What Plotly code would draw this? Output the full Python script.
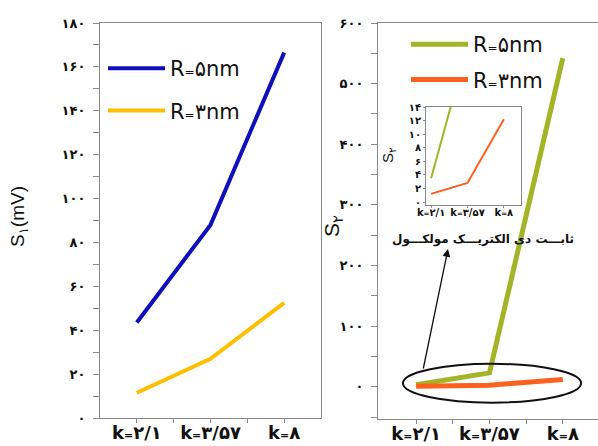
import plotly.graph_objects as go

W, H = 598, 446

# ---- data ----
k_labels = ["k<span style='font-size:11px'>=</span>۲/۱",
            "k<span style='font-size:11px'>=</span>۳/۵۷",
            "k<span style='font-size:11px'>=</span>۸"]
k_labels_small = ["k<span style='font-size:7px'>=</span>۲/۱",
                  "k<span style='font-size:7px'>=</span>۳/۵۷",
                  "k<span style='font-size:7px'>=</span>۸"]
s1_r5 = [43.5, 88, 166.5]
s1_r3 = [11.5, 27, 52.5]
s2_r5 = [3.5, 23, 542]
s2_r3 = [1.2, 2.8, 12.2]
s1_ticks = [0, 20, 40, 60, 80, 100, 120, 140, 160, 180]
s1_ticktext = ["۰", "۲۰", "۴۰", "۶۰", "۸۰", "۱۰۰", "۱۲۰", "۱۴۰", "۱۶۰", "۱۸۰"]
s2_ticks = [0, 100, 200, 300, 400, 500, 600]
s2_ticktext = ["۰", "۱۰۰", "۲۰۰", "۳۰۰", "۴۰۰", "۵۰۰", "۶۰۰"]
ins_ticks = [0, 2, 4, 6, 8, 10, 12, 14]
ins_ticktext = ["۰", "۲", "۴", "۶", "۸", "۱۰", "۱۲", "۱۴"]
legend_r5 = "R<span style='font-size:12px'>=</span>۵nm"
legend_r3 = "R<span style='font-size:12px'>=</span>۳nm"

xi = list(range(len(k_labels)))

BLUE = "#0f0fbe"
YEL = "#ffbf00"
GREEN = "#a3b526"
ORANGE = "#ff5f1f"
GRAY = "#8a8a8a"
FONT = "DejaVu Sans, sans-serif"
LFONT = "Liberation Sans, Arial, DejaVu Sans, sans-serif"
TXT = "#111"

fig = go.Figure()
fig.add_trace(go.Scatter(x=xi, y=s1_r5, mode="lines", line=dict(color=BLUE, width=4),
                         name=legend_r5, xaxis="x", yaxis="y", legend="legend", legendgroup="a"))
fig.add_trace(go.Scatter(x=xi, y=s1_r3, mode="lines", line=dict(color=YEL, width=4),
                         name=legend_r3, xaxis="x", yaxis="y", legend="legend", legendgroup="b"))
fig.add_trace(go.Scatter(x=xi, y=s2_r5, mode="lines", line=dict(color=GREEN, width=5),
                         name=legend_r5, xaxis="x2", yaxis="y2", legend="legend2", legendgroup="c"))
fig.add_trace(go.Scatter(x=xi, y=s2_r3, mode="lines", line=dict(color=ORANGE, width=5),
                         name=legend_r3, xaxis="x2", yaxis="y2", legend="legend2", legendgroup="d"))
fig.add_trace(go.Scatter(x=xi, y=s2_r5, mode="lines", line=dict(color=GREEN, width=2),
                         showlegend=False, xaxis="x3", yaxis="y3"))
fig.add_trace(go.Scatter(x=xi, y=s2_r3, mode="lines", line=dict(color=ORANGE, width=2),
                         showlegend=False, xaxis="x3", yaxis="y3"))


def px_x(a, b):
    return [a / W, b / W]


def px_y(top, bottom):
    return [1 - bottom / H, 1 - top / H]


axis_common = dict(showline=True, mirror=True, linecolor=GRAY, linewidth=1, automargin=False,
                   showgrid=False, zeroline=False, ticks="outside", tickcolor=GRAY)
xfont = dict(family=FONT, size=18, color=TXT, weight="bold")
yfont = dict(family=FONT, size=13, color=TXT, weight="bold")

fig.update_layout(
    width=W, height=H, margin=dict(l=0, r=0, t=0, b=0, pad=0), autosize=False,
    paper_bgcolor="white", plot_bgcolor="rgba(0,0,0,0)",
    xaxis=dict(domain=px_x(100, 321), range=[-0.5, 2.5], tickvals=xi, ticktext=k_labels,
               anchor="y", tickfont=xfont, ticklen=4, tickangle=0, ticklabelstandoff=-6,
               minor=dict(ticks="outside", ticklen=4, tickcolor=GRAY, tickvals=[0.5, 1.5]),
               **axis_common),
    yaxis=dict(domain=px_y(23, 418), range=[0, 180], tickvals=s1_ticks, ticktext=s1_ticktext,
               anchor="x", tickfont=yfont, ticklabelstandoff=5, ticklen=6,
               minor=dict(ticks="outside", ticklen=6, tickcolor=GRAY, dtick=10, tick0=0),
               **axis_common),
    xaxis2=dict(domain=px_x(378, 598), range=[-0.52, 2.48], tickvals=xi, ticktext=k_labels,
                anchor="y2", tickfont=xfont, ticklen=4, tickangle=0, ticklabelstandoff=-6,
                minor=dict(ticks="outside", ticklen=4, tickcolor=GRAY, tickvals=[0.5, 1.5]),
                **axis_common),
    yaxis2=dict(domain=px_y(23, 419), range=[-53, 600], tickvals=s2_ticks, ticktext=s2_ticktext,
                anchor="x2", tickfont=yfont, ticklabelstandoff=5, ticklen=6,
                minor=dict(ticks="outside", ticklen=6, tickcolor=GRAY, dtick=50, tick0=0),
                **axis_common),
    xaxis3=dict(domain=px_x(426, 521), range=[-0.14, 2.47], tickvals=xi, ticktext=k_labels_small,
                anchor="y3", tickfont=dict(family=FONT, size=10, color=TXT, weight="bold"),
                showline=True, mirror=True, linecolor=GRAY, showgrid=False, zeroline=False,
                automargin=False, ticks="outside", ticklen=2, tickcolor=GRAY, tickangle=0,
                ticklabelstandoff=-4),
    yaxis3=dict(domain=px_y(107, 205), range=[-0.44, 14], tickvals=ins_ticks, ticktext=ins_ticktext,
                anchor="x3", tickfont=dict(family=FONT, size=10, color=TXT, weight="bold"),
                showline=True, mirror=True, linecolor=GRAY, showgrid=False, zeroline=False,
                automargin=False, ticks="outside", ticklen=2, tickcolor=GRAY),
    legend=dict(x=103 / W, y=1 - 48 / H, xanchor="left", yanchor="top",
                font=dict(family=FONT, size=21, color=TXT), bgcolor="rgba(0,0,0,0)",
                tracegroupgap=12, itemwidth=57),
    legend2=dict(x=406 / W, y=1 - 24 / H, xanchor="left", yanchor="top",
                 font=dict(family=FONT, size=21, color=TXT), bgcolor="rgba(0,0,0,0)",
                 tracegroupgap=5, itemwidth=57),
    showlegend=True,
)

# axis titles
fig.add_annotation(text="S<sub>۱</sub>(mV)", xref="paper", yref="paper", x=19 / W, y=1 - 217 / H,
                   xanchor="center", yanchor="middle",
                   textangle=-90, showarrow=False, font=dict(family=LFONT, size=19, color=TXT))
fig.add_annotation(text="S<sub>۲</sub>", xref="paper", yref="paper", x=333 / W, y=1 - 226 / H,
                   xanchor="center", yanchor="middle",
                   textangle=-90, showarrow=False, font=dict(family=LFONT, size=21, color=TXT))
fig.add_annotation(text="S<sub>۲</sub>", xref="paper", yref="paper", x=388 / W, y=1 - 155 / H,
                   xanchor="center", yanchor="middle",
                   textangle=-90, showarrow=False, font=dict(family=LFONT, size=15, color=TXT))

# Persian label and arrow
fig.add_annotation(text="\u200eثابـــت دی الکتریـــک مولکـــول\u200e", xref="paper", yref="paper",
                   x=483 / W, y=1 - 239 / H, xanchor="center", yanchor="middle", showarrow=False,
                   font=dict(family=FONT, size=12, color=TXT, weight="bold"))
fig.add_annotation(text="", xref="paper", yref="paper", x=448 / W, y=1 - 249 / H,
                   ax=-25, ay=121, showarrow=True, arrowhead=2, arrowsize=1.2,
                   arrowwidth=1.3, arrowcolor=TXT)

# ellipse around low values
fig.add_shape(type="circle", xref="x2", yref="y2", x0=-0.18, x1=2.25, y0=-26, y1=38,
              line=dict(color=TXT, width=2))

fig.write_html("out.html", config={"displayModeBar": False},
               post_script="document.body.style.margin='0';")
